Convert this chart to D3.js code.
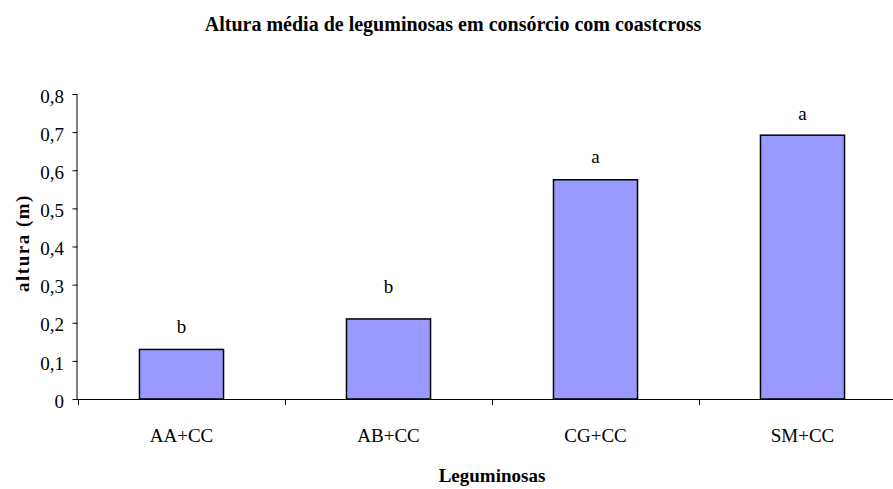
<!DOCTYPE html>
<html><head><meta charset="utf-8">
<script src="https://cdn.jsdelivr.net/npm/d3@7"></script>
</head>
<body style="margin:0">
<svg id="chart" width="893" height="489" style="font-family:'Liberation Serif'"></svg>
<script>
// ---- data ----
const categories = ["AA+CC", "AB+CC", "CG+CC", "SM+CC"];
const values = [0.13, 0.21, 0.575, 0.692];
const letters = ["b", "b", "a", "a"];
const letterValues = [0.173, 0.278, 0.619, 0.732];
const yTicks = [0, 0.1, 0.2, 0.3, 0.4, 0.5, 0.6, 0.7, 0.8];
const title = "Altura média de leguminosas em consórcio com coastcross";
const xTitle = "Leguminosas";
const yTitle = "altura (m)";

(function () {
const svg = d3.select("#chart");
const mLeft = 77.5, mTop = 94, mBottom = 399, mRight = 906;
const st = (size, bold) => "font-family:'Liberation Serif';font-size:" + size + "px" + (bold ? ";font-weight:bold" : "");

const x = d3.scaleBand().domain(categories).range([78, mRight])
  .paddingInner(0.594).paddingOuter(0.297);
const y = d3.scaleLinear().domain([0, 0.8]).range([mBottom, mTop]);
const fmt = d => d === 0 ? "0" : d3.format(".1f")(d).replace(".", ",");

// bars
svg.append("g").selectAll("rect").data(values).join("rect")
  .attr("x", (d, i) => x(categories[i]))
  .attr("y", d => y(d))
  .attr("width", x.bandwidth())
  .attr("height", d => y(0) - y(d))
  .attr("fill", "#9999FF")
  .attr("stroke", "#000").attr("stroke-width", 1.5);

// y axis lines
const yAxis = d3.axisLeft(y).tickValues(yTicks).tickFormat("").tickSize(5);
const gy = svg.append("g").attr("transform", `translate(${mLeft},0)`).call(yAxis);
gy.attr("font-family", null).attr("font-size", null);
gy.select(".domain").attr("d", `M-0.5,${mTop}V${mBottom}`).attr("stroke", "#000");
gy.selectAll(".tick line").attr("stroke", "#000");
gy.selectAll(".tick text").remove();

// x axis line
svg.append("line").attr("x1", 77).attr("x2", 893).attr("y1", mBottom + 0.5).attr("y2", mBottom + 0.5)
  .attr("stroke", "#000");
const step = x.step();
svg.append("g").selectAll("line").data(categories).join("line")
  .attr("x1", d => Math.round(x(d) - (step - x.bandwidth()) / 2) + 0.5)
  .attr("x2", d => Math.round(x(d) - (step - x.bandwidth()) / 2) + 0.5)
  .attr("y1", mBottom).attr("y2", mBottom + 6)
  .attr("stroke", "#000");

// title
svg.append("text").attr("x", 453).attr("y", 31).attr("text-anchor", "middle")
  .attr("style", st(20, true)).text(title);

// letters
svg.selectAll("text.letter").data(letters).join("text").attr("class", "letter")
  .attr("x", (d, i) => x(categories[i]) + x.bandwidth() / 2)
  .attr("y", (d, i) => y(letterValues[i]))
  .attr("text-anchor", "middle").attr("style", st(19, false))
  .text(d => d);

// y tick labels
svg.selectAll("text.ytick").data(yTicks).join("text").attr("class", "ytick")
  .attr("x", 64).attr("y", d => y(d) + 8.7)
  .attr("text-anchor", "end").attr("style", st(19, false))
  .text(fmt);

// category labels
svg.selectAll("text.cat").data(categories).join("text").attr("class", "cat")
  .attr("x", d => x(d) + x.bandwidth() / 2)
  .attr("y", 442)
  .attr("text-anchor", "middle").attr("style", st(19, false))
  .text(d => d);

// axis titles
svg.append("text").attr("x", 492).attr("y", 482).attr("text-anchor", "middle")
  .attr("style", st(19, true)).text(xTitle);
svg.append("text").attr("transform", "translate(29,243) rotate(-90)")
  .attr("text-anchor", "middle").attr("style", st(19, true) + ";letter-spacing:1.5px").text(yTitle);
})();
</script>
</body></html>
